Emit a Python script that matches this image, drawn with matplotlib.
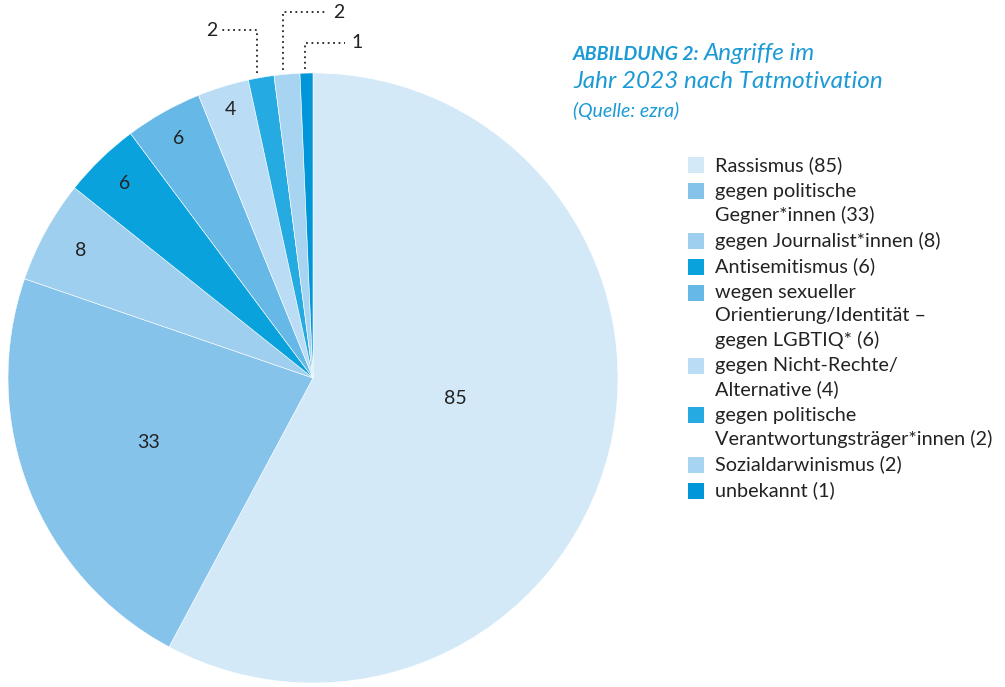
import matplotlib.pyplot as plt
from matplotlib.patches import Rectangle
import numpy as np

# data
categories = ["Rassismus", "gegen politische\nGegner*innen", "gegen Journalist*innen",
              "Antisemitismus", "wegen sexueller\nOrientierung/Identität –\ngegen LGBTIQ*",
              "gegen Nicht-Rechte/\nAlternative", "gegen politische\nVerantwortungsträger*innen",
              "Sozialdarwinismus", "unbekannt"]
values = [85, 33, 8, 6, 6, 4, 2, 2, 1]
colors = ["#d4e9f7", "#86c3eb", "#9fcfee", "#0aa2dd", "#66b8e7",
          "#badcf4", "#26aae2", "#a7d4f0", "#0096d8"]

W, H = 1005, 687
FONT = "Lato"
BLUE = "#1b9ad6"
DARK = "#222222"

fig = plt.figure(figsize=(W / 100, H / 100), dpi=100)
ax = fig.add_axes([0, 0, 1, 1])

cx, cy, R = 313, H - 378, 305
wedges, _ = ax.pie(values, center=(cx, cy), radius=R, startangle=90,
                   counterclock=False, colors=colors,
                   wedgeprops=dict(linewidth=0.4, edgecolor="white"))
ax.set_xlim(0, W)
ax.set_ylim(0, H)
ax.set_aspect("equal")
ax.axis("off")

# labels inside the bigger slices
label_r = [0.47, 0.58, 0.87, 0.89, 0.90, 0.92]
angle_shift = [6, 0, 0, 0, 0, 0]
for w, v, r, da in zip(wedges, values, label_r, angle_shift):
    a = np.deg2rad((w.theta1 + w.theta2) / 2 + da)
    ax.text(cx + r * R * np.cos(a), cy + r * R * np.sin(a), str(v),
            ha="center", va="center", fontsize=14, color=DARK, family=FONT)

# leader lines for the small slices
rise = [43, 61, 30]
run = [-38, 44, 40]
shift = [-4, -4, -1]
for w, v, up, dx, sx in zip(wedges[6:], values[6:], rise, run, shift):
    a = np.deg2rad((w.theta1 + w.theta2) / 2)
    x0 = cx + R * np.cos(a) + sx
    y0 = cy + R * np.sin(a) + 4
    y1 = cy + R + up
    ax.plot([x0, x0, x0 + dx], [y0, y1, y1], ls=(0, (1, 2)), lw=1.3,
            color=DARK, clip_on=False)
    if dx < 0:
        ax.text(x0 + dx - 2, y1, str(v), ha="right", va="center",
                fontsize=14, color=DARK, family=FONT)
    else:
        ax.text(x0 + dx + 6, y1, str(v), ha="left", va="center",
                fontsize=14, color=DARK, family=FONT)

# title
tx = 573
t1 = ax.text(tx, H - 60, "ABBILDUNG 2: ", fontsize=14, fontweight="bold",
             style="italic", color=BLUE, family=FONT, va="baseline")
fig.canvas.draw()
bb = t1.get_window_extent()
ax.text(bb.x1, H - 60, "Angriffe im", fontsize=17.5, style="italic",
        color=BLUE, family=FONT, va="baseline")
ax.text(tx, H - 88, "Jahr 2023 nach Tatmotivation", fontsize=17.5,
        style="italic", color=BLUE, family=FONT, va="baseline")
ax.text(tx, H - 117, "(Quelle: ezra)", fontsize=14, style="italic",
        color=BLUE, family=FONT, va="baseline")

# legend
y = H - 165
line_h = 23.5
for cat, v, c in zip(categories, values, colors):
    ax.add_patch(Rectangle((688, y - 8), 16, 16, facecolor=c, edgecolor="none"))
    lines = cat.split("\n")
    lines[-1] += f" ({v})"
    for i, ln in enumerate(lines):
        ax.text(715, y - i * line_h, ln, fontsize=14.3, color=DARK,
                family=FONT, va="center")
    y -= len(lines) * line_h + 2.5

fig.savefig("out.png", dpi=100)
